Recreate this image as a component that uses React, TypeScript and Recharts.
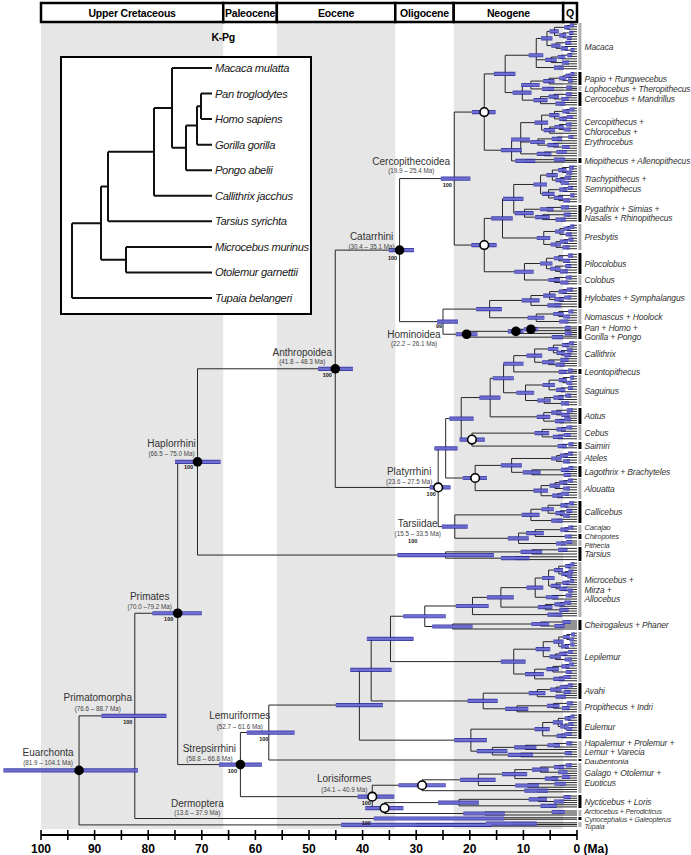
import React from 'react';
import { ComposedChart, Line, Scatter, XAxis, YAxis, ReferenceArea, ReferenceLine } from 'recharts';

// ---------------- data ----------------
const periodNames = ['Upper Cretaceous', 'Paleocene', 'Eocene', 'Oligocene', 'Neogene', 'Q'];
const periodStart = [100, 66, 56, 33.9, 23, 2.58];
const periodEnd = [66, 56, 33.9, 23, 2.58, 0];
const periodShaded = [true, false, true, false, true, false];
const axisTicks = [100, 95, 90, 85, 80, 75, 70, 65, 60, 55, 50, 45, 40, 35, 30, 25, 20, 15, 10, 5, 0];

const cladeLabels = [
  'Macaca', 'Papio + Rungwecebus', 'Lophocebus + Theropithecus', 'Cercocebus + Mandrillus',
  'Cercopithecus +\nChlorocebus +\nErythrocebus', 'Miopithecus + Allenopithecus',
  'Trachypithecus +\nSemnopithecus', 'Pygathrix + Simias  +\nNasalis + Rhinopithecus', 'Presbytis',
  'Pilocolobus', 'Colobus', 'Hylobates + Symphalangus', 'Nomascus + Hoolock', 'Pan + Homo +\nGorilla + Pongo',
  'Callithrix', 'Leontopithecus', 'Saguinus', 'Aotus', 'Cebus', 'Saimiri', 'Ateles', 'Lagothrix + Brachyteles',
  'Alouatta', 'Callicebus', 'Cacajao', 'Chiropotes', 'Pithecia', 'Tarsius', 'Microcebus +\nMirza +\nAllocebus',
  'Cheirogaleus + Phaner', 'Lepilemur', 'Avahi', 'Propithecus + Indri', 'Eulemur',
  'Hapalemur + Prolemur +\nLemur + Varecia', 'Daubentonia', 'Galago + Otolemur +\nEuoticus', 'Nycticebus + Loris',
  'Arctocebus + Perodicticus', 'Cynocephalus + Galeopterus', 'Tupaia',
];
const cladeTop = [23, 72, 86, 92, 107, 158, 165, 205, 224, 253, 275, 287, 309, 326, 341, 369, 375, 408, 425, 442, 451, 466, 478, 501, 525, 534, 540, 547, 562, 620, 632, 683, 701, 714, 741, 759, 763, 795, 810, 817, 822];
const cladeBottom = [70, 85, 91, 106, 157, 163, 203, 222, 250, 274, 285, 308, 324, 339, 367, 374, 406, 424, 440, 449, 464, 477, 499, 523, 533, 539, 546, 561, 617, 630, 682, 699, 713, 739, 758, 761, 793, 808, 816, 820, 827];
const cladeShade = ['g', 'k', 'g', 'k', 'g', 'k', 'g', 'k', 'g', 'k', 'g', 'k', 'g', 'k', 'g', 'k', 'g', 'k', 'g', 'k', 'g', 'k', 'g', 'k', 'g', 'k', 'g', 'k', 'g', 'k', 'g', 'k', 'g', 'k', 'g', 'k', 'g', 'k', 'g', 'k', 'g'];

// clade subtrees: t = tip, (..)age:lo:hi  * = filled node, o = open node, &Name = labelled node
const cladeTrees = [
  '(((((t,t)0.9:0.6:1.3,t)1.8:1.3:2.4,((t,t)1.1:0.7:1.5,(t,t)1.4:1:1.9)2.6:2:3.3)4.2:3.4:5.1,((t,t)1.6:1.1:2.2,(t,(t,t)0.8:0.5:1.2)2.3:1.7:3)3.9:3.1:4.8)5.6:4.6:6.7,(((t,t)1.3:0.9:1.8,t)2.9:2.2:3.6,(t,t)2.1:1.5:2.8)4.8:3.8:5.9,(t,t)3.4:2.5:4.3)7.6:6.3:9',
  '((((t,t)0.8:0.5:1.2,t)1.6:1.1:2.2,(t,t)1.2:0.8:1.7)2.6:2:3.3,t)5.2:4.2:6.3',
  '((t,t)1.4:0.9:2,t)5.4:4.3:6.5',
  '(((t,t)1.5:1:2.1,(t,t)2.2:1.6:2.9)4.3:3.4:5.3,(t,t)3.1:2.2:4)6.8:5.5:8.1',
  '(((((t,t)0.9:0.5:1.4,t)2:1.4:2.7,((t,t)1.3:0.8:1.9,t)2.6:1.9:3.3)4.2:3.3:5.2,(((t,t)1.5:1:2.1,(t,t)1.8:1.2:2.5)3.3:2.5:4.2,t)5.1:4.1:6.2)6.6:5.4:7.9,(((t,t)1.1:0.7:1.6,t)3.7:2.8:4.7,(t,(t,t)2.1:1.4:2.8)4.4:3.4:5.5)7.3:6:8.7,((t,t)2.8:1.9:3.8,t)6.1:4.8:7.5)10.5:8.8:12.3',
  '((t,t)3.2:2.2:4.3,t)9.6:7.8:11.5',
  '((((t,t)1:0.6:1.5,(t,t)1.4:0.9:2)2.7:2:3.5,((t,t)1.7:1.1:2.3,(t,t)2.2:1.5:3)3.1:2.3:4)4.6:3.6:5.7,(((t,t)1.2:0.8:1.7,t)2.5:1.8:3.3,((t,t)0.9:0.5:1.3,(t,t)1.9:1.3:2.6)3.4:2.6:4.3)5.3:4.2:6.5)6.8:5.6:8.1',
  '(((t,t)2.2:1.5:3,t)5.6:4.4:6.9,((t,t)1.8:1.2:2.5,(t,t)3:2.1:4)6.4:5.1:7.8)9.8:8.1:11.6',
  '((((t,t)0.9:0.5:1.3,t)1.8:1.2:2.5,(t,t)1.5:1:2.1)3.2:2.4:4.1,(((t,t)1.1:0.7:1.6,t)2.4:1.7:3.2,(t,t)2:1.4:2.7)3.9:3:4.9)6.2:5:7.5',
  '(((t,t)1.2:0.8:1.7,(t,t)1.9:1.3:2.6)3.4:2.6:4.3,((t,t)1.6:1.1:2.2,(t,t)2.4:1.7:3.2)4:3.1:5)5.7:4.6:6.9',
  '((t,t)1.5:1:2.1,(t,t)2.3:1.6:3.1)4.2:3.2:5.3',
  '((((t,t)1.3:0.8:1.9,t)2.6:1.9:3.4,((t,t)1.7:1.1:2.4,t)3.3:2.5:4.2)5.1:4:6.3,(t,t)4.2:3:5.5)8.6:7:10.3',
  '(((t,t)1.1:0.7:1.6,(t,t)1.9:1.3:2.6)3.4:2.5:4.4,(t,t)2.4:1.6:3.3)7.6:6.1:9.2',
  '((((t,t)1.7:1.2:2.3,t)8.6:7.3:9.9*,(t,t)1.6:1:2.3)11.4:10:12.9*,(t,t)3.6:2.6:4.7)20.6:18.6:22.6*',
  '((((t,t)1:0.6:1.5,t)2.1:1.5:2.8,((t,t)1.3:0.8:1.9,(t,t)1.7:1.1:2.4)2.9:2.2:3.8)4.4:3.5:5.4,((t,t)2.3:1.6:3.1,(t,t)3.1:2.3:4)5.3:4.2:6.5)7.9:6.5:9.4',
  '((t,t)1.2:0.8:1.7,t)2.6:1.9:3.4',
  '((((t,t)0.9:0.6:1.3,(t,t)1.4:0.9:2)2.6:1.9:3.4,((t,t)1.2:0.8:1.7,t)3:2.2:3.9)5.2:4.1:6.4,(((t,t)1.6:1.1:2.2,t)3.4:2.5:4.4,(t,t)2.2:1.5:3)6.1:4.9:7.4)9.6:8:11.3',
  '(((t,t)1.3:0.8:1.9,(t,t)2.1:1.4:2.9)3.8:2.9:4.8,((t,t)1.7:1.1:2.4,t)3.2:2.4:4.1)6.2:5:7.5',
  '(((t,t)1.4:0.9:2,t)2.9:2.1:3.8,((t,t)1.8:1.2:2.5,t)3.5:2.6:4.5)6.5:5.2:7.9',
  '((t,t)1.1:0.7:1.6,t)2.7:1.9:3.6',
  '(((t,t)1.2:0.8:1.7,t)2.4:1.7:3.2,(t,t)1.9:1.3:2.6)3.8:2.9:4.8',
  '(((t,t)1.1:0.7:1.6,t)2.2:1.5:3,(t,t)1.8:1.2:2.5)8.4:6.8:10.1',
  '((((t,t)1.2:0.8:1.7,t)2.5:1.8:3.3,(t,t)1.9:1.3:2.6)4.1:3.2:5.1,((t,t)2.2:1.5:3,t)3.6:2.7:4.6)6.7:5.4:8.1',
  '((((t,t)1:0.6:1.5,t)2.3:1.6:3.1,((t,t)1.4:0.9:2,(t,t)1.9:1.3:2.6)3.1:2.3:4)5.4:4.3:6.6,(t,t)3.7:2.7:4.8)8.6:7:10.3',
  '((t,t)1.1:0.7:1.6,t)2.3:1.6:3.1',
  '(t,t)1.6:1:2.3',
  '((t,t)1.4:0.9:2,t)3:2.1:3.9',
  '(((t,t)2.6:1.8:3.5,t)8.4:6.5:10.5,(t,t)11.5:8.9:14.2)24.5:15.5:33.5&Tarsiidae',
  '(((((((t,t)0.8:0.5:1.2,t)1.6:1.1:2.2,((t,t)1.1:0.7:1.6,(t,t)1.3:0.9:1.8)2.2:1.6:2.9)3.4:2.6:4.3,(((t,t)0.9:0.6:1.3,t)2:1.4:2.7,(t,(t,t)1.2:0.8:1.7)2.5:1.8:3.3)3.9:3:4.9)5.3:4.2:6.5,((t,t)1.5:1:2.1,t)4.6:3.5:5.8)7.8:6.3:9.4,(((t,t)1.7:1.1:2.4,t)3.2:2.3:4.2,(t,t)2.4:1.6:3.3)5.9:4.6:7.3)14.2:11.8:16.8,(t,t)4.1:2.8:5.5)19.5:16.5:22.6',
  '(((t,t)1.9:1.2:2.7,(t,t)3.2:2.3:4.2)6.8:5.2:8.5,t)23.2:19.5:27',
  '(((((t,t)0.7:0.4:1.1,(t,t)1:0.6:1.4)1.9:1.3:2.6,((t,t)0.9:0.5:1.3,t)2.2:1.5:3)3.4:2.5:4.4,(((t,t)1.2:0.8:1.7,t)2.5:1.8:3.3,(t,t)1.6:1:2.3)4:3:5.1)6.3:5:7.7,((((t,t)1:0.6:1.5,t)2.1:1.4:2.9,(t,t)1.5:1:2.1)4.5:3.4:5.7,((t,t)1.8:1.2:2.5,t)3.3:2.3:4.4)7.9:6.2:9.7)11.8:9.6:14.2',
  '((((t,t)1.2:0.8:1.7,t)2.4:1.7:3.2,(t,t)1.8:1.2:2.5)3.9:2.9:5,(t,t)3:2.1:4)7.4:5.9:9',
  '(((t,t)1.3:0.8:1.9,(t,t)2:1.4:2.8)4.4:3.3:5.6,t)11.2:9.1:13.4',
  '((((t,t)0.8:0.5:1.2,t)1.7:1.1:2.3,((t,t)1.1:0.7:1.6,(t,t)1.4:0.9:2)2.3:1.6:3.1)3.5:2.6:4.5,((t,t)1.6:1:2.3,t)2.9:2:3.8)6.4:5.1:7.9',
  '((((t,t)1.4:0.9:2,t)4.3:3.2:5.5,t)9.6:7.6:11.7,((t,t)1.6:1:2.3,t)10.5:8.2:12.9)15.8:13:18.7',
  't',
  '((((((t,t)1.5:1:2.1,t)3.3:2.4:4.3,(t,t)2.6:1.8:3.5)6.8:5.3:8.4,((t,t)2:1.3:2.8,t)4.7:3.5:6)11.6:9.3:14,((t,t)3.1:2.1:4.2,t)9.2:7.1:11.5)18.4:15.2:21.8,(t,t)7.5:5.4:9.8)28.9:24.5:33.3o',
  '(((t,t)1.8:1.2:2.5,(t,t)3.3:2.4:4.3)7.2:5.6:9,(t,t)5.2:3.8:6.8)22:18.3:25.9',
  '((t,t)3.4:2.3:4.7,t)17.2:13.5:21.2',
  '(t,t)25.5:13.6:37.9&Dermoptera',
  '((t,t)12:7.5:17,t)30:16:44',
];

// backbone: name, children, age, HPD low, HPD high, mark
const backbone: [string, string[], number, number, number, string][] = [
  ['Euarchonta', ['Primatomorpha', '#40'], 92.9, 81.9, 107, '*'],
  ['Primatomorpha', ['Primates', '#39'], 82.5, 76.6, 88.7, ''],
  ['Primates', ['Haplorrhini', 'Strepsirrhini'], 74.5, 70.0, 79.2, '*'],
  ['Haplorrhini', ['Anthropoidea', '#27'], 70.8, 66.5, 75.0, '*'],
  ['Anthropoidea', ['Catarrhini', 'Platyrrhini'], 45.1, 41.8, 48.3, '*'],
  ['Catarrhini', ['Cercopithecoidea', 'Hominoidea'], 33.1, 30.4, 35.1, '*'],
  ['Cercopithecoidea', ['Cercopithecinae', 'Colobinae'], 22.9, 19.9, 25.4, ''],
  ['Cercopithecinae', ['Papionini', 'Cercopithecini'], 17.3, 15.2, 19.6, 'o'],
  ['Papionini', ['#0', 'Papionina'], 13.4, 11.5, 15.5, ''],
  ['Papionina', ['PapioLopho', '#3'], 10.2, 8.5, 12.0, ''],
  ['PapioLopho', ['#1', '#2'], 8.6, 7.0, 10.4, ''],
  ['Cercopithecini', ['#4', '#5'], 12.2, 10.3, 14.2, ''],
  ['Colobinae', ['AsianColobines', 'AfricanColobines'], 17.3, 15.0, 19.7, 'o'],
  ['AsianColobines', ['Presbytini', '#8'], 13.9, 12.0, 16.0, ''],
  ['Presbytini', ['#6', '#7'], 11.8, 10.0, 13.8, ''],
  ['AfricanColobines', ['#9', '#10'], 9.8, 8.1, 11.7, ''],
  ['Hominoidea', ['Hylobatidae', '#13'], 25.0, 22.2, 26.1, ''],
  ['Hylobatidae', ['#11', '#12'], 16.3, 14.0, 18.8, ''],
  ['Platyrrhini', ['CebAtel', 'Pitheciidae'], 25.9, 23.6, 27.5, 'o'],
  ['CebAtel', ['Cebidae', 'Atelidae'], 24.5, 22.3, 26.6, ''],
  ['Cebidae', ['CallAotus', 'Cebinae'], 21.6, 19.3, 23.8, ''],
  ['CallAotus', ['Callitrichinae', '#17'], 16.2, 14.3, 18.2, ''],
  ['Callitrichinae', ['CallLeonto', '#16'], 13.7, 11.8, 15.7, ''],
  ['CallLeonto', ['#14', '#15'], 11.8, 10.0, 13.7, ''],
  ['Cebinae', ['#18', '#19'], 19.6, 17.2, 21.9, 'o'],
  ['Atelidae', ['Atelinae', '#22'], 19.0, 16.8, 21.3, 'o'],
  ['Atelinae', ['#20', '#21'], 12.2, 10.3, 14.2, ''],
  ['Pitheciidae', ['#23', 'Pitheciinae'], 22.8, 20.4, 25.2, ''],
  ['Pitheciinae', ['CacChiro', '#26'], 10.9, 9.0, 12.9, ''],
  ['CacChiro', ['#24', '#25'], 7.8, 6.2, 9.5, ''],
  ['Strepsirrhini', ['Lemuriformes', 'Lorisiformes'], 62.8, 58.8, 66.8, '*'],
  ['Lemuriformes', ['Lemuroidea', '#35'], 57.5, 52.7, 61.6, ''],
  ['Lemuroidea', ['CheirLepiIndri', 'Lemuridae'], 40.6, 36.2, 45.0, ''],
  ['CheirLepiIndri', ['CheirLepi', 'Indriidae'], 38.4, 34.6, 42.3, ''],
  ['CheirLepi', ['Cheirogaleidae', '#30'], 34.8, 30.5, 39.2, ''],
  ['Cheirogaleidae', ['#28', '#29'], 28.4, 24.5, 32.4, ''],
  ['Indriidae', ['#31', '#32'], 17.5, 14.8, 20.4, ''],
  ['Lemuridae', ['#33', '#34'], 19.8, 16.8, 22.9, ''],
  ['Lorisiformes', ['#36', 'Lorisidae'], 38.2, 34.1, 40.9, 'o'],
  ['Lorisidae', ['#37', '#38'], 35.9, 32.4, 39.5, 'o'],
];
const ROOT = 'Euarchonta';

const labelNodes = ['Euarchonta', 'Primatomorpha', 'Primates', 'Haplorrhini', 'Anthropoidea', 'Catarrhini', 'Cercopithecoidea', 'Hominoidea', 'Platyrrhini', 'Tarsiidae', 'Strepsirrhini', 'Lemuriformes', 'Lorisiformes', 'Dermoptera'];
const labelRanges = ['(81.9 – 104.1 Ma)', '(76.6 – 88.7 Ma)', '(70.0 –79.2 Ma)', '(66.5 – 75.0 Ma)', '(41.8 – 48.3 Ma)', '(30.4 – 35.1 Ma)', '(19.9 – 25.4 Ma)', '(22.2 – 26.1 Ma)', '(23.6 – 27.5 Ma)', '(15.5 – 33.5 Ma)', '(58.8 – 66.8 Ma)', '(52.7 – 61.6 Ma)', '(34.1 – 40.9 Ma)', '(13.6 – 37.9 Ma)'];
const labelSupport = ['', '100', '100', '100', '100', '100', '100', '99', '100', '100', '100', '100', '100', '100'];

// inset cladogram (depth from root; tips at INSET_TIP)
const insetTaxa = ['Macaca mulatta', 'Pan troglodytes', 'Homo sapiens', 'Gorilla gorilla', 'Pongo abelii', 'Callithrix jacchus', 'Tarsius syrichta', 'Microcebus murinus', 'Otolemur garnettii', 'Tupaia belangeri'];
const insetTree = '(((((t,(((t,t)129,t)125,t)114)100,t)82,t)36,(t,t)54)29,t)0';
const INSET_TIP = 140;

// ---------------- styling constants ----------------
const FONT = '"Liberation Sans", Arimo, Arial, Helvetica, sans-serif';
const W = 691;
const H = 855;
const X_DOMAIN: [number, number] = [-21.27, 107.65];
const Y_DOMAIN: [number, number] = [0, 835];
const LABEL_BAR_X = -0.55;
const LABEL_TEXT_X = -1.4;
const LABEL_OFFSETS: Record<string, number[]> = {
  Euarchonta: [-31, -18, -8, 0, 0],
  Primatomorpha: [-37, -18, -7, -7, 6],
  Primates: [-28, -17, -7, -9, 6],
  Haplorrhini: [-26, -18, -8, -9, 5],
  Anthropoidea: [-33, -16, -7, -8, 6],
  Catarrhini: [-28, -14, -4, -7, 8],
  Cercopithecoidea: [-43, -17, -8, -7, 6],
  Hominoidea: [-29, 13, 22, -4, 4],
  Platyrrhini: [-29, -16, -6, -7, 7],
  Tarsiidae: [-28, -32, -22, -33, -14],
  Strepsirrhini: [-31, -16, -6, -8, 6],
  Lemuriformes: [-29, -17, -6, -5, 6],
  Lorisiformes: [-28, -18, -7, -6, 6],
  Dermoptera: [-243, -15, -6, -74, 4],
};
// small vertical nudges / sizes for crowded right-hand labels (pixels)
const CLADE_LABEL_STYLE: Record<string, { dy?: number; size?: number; lh?: number }> = {
  'Hapalemur + Prolemur +\nLemur + Varecia': { dy: -2, lh: 9 },
  Daubentonia: { dy: 1.5, size: 8 },
  'Arctocebus + Perodicticus': { dy: -1.5, size: 7 },
  'Cynocephalus + Galeopterus': { dy: 0.5, size: 7 },
  Tupaia: { dy: 2, size: 7 },
  Cacajao: { dy: -1.5, size: 7.4 },
  Chiropotes: { dy: -0.5, size: 7.4 },
  Pithecia: { dy: 2, size: 7.4 },
};

// ---------------- tree helpers ----------------
type TNode = { kids: TNode[]; age: number; lo?: number; hi?: number; mark?: string; name?: string; y: number; tip: boolean };
type Pt = { x: number; y: number | null };

function parseTree(src: string): TNode {
  const s = src.replace(/\s+/g, '');
  let i = 0;
  const num = (): number => {
    const m = /^-?\d+(\.\d+)?/.exec(s.slice(i));
    if (!m) throw new Error('number expected at ' + i + ': ' + s.slice(Math.max(0, i - 15), i + 15));
    i += m[0].length;
    return parseFloat(m[0]);
  };
  const node = (): TNode => {
    if (s[i] === 't') { i++; return { kids: [], age: 0, y: 0, tip: true }; }
    if (s[i] !== '(') throw new Error('unexpected ' + s[i] + ' at ' + i + ' in ' + s.slice(0, 30));
    i++;
    const kids: TNode[] = [node()];
    while (s[i] === ',') { i++; kids.push(node()); }
    if (s[i] !== ')') throw new Error(') expected at ' + i + ': ' + s.slice(Math.max(0, i - 15), i + 15));
    i++;
    const n: TNode = { kids, age: num(), y: 0, tip: false };
    if (s[i] === ':') { i++; n.lo = num(); i++; n.hi = num(); }
    while (i < s.length && (s[i] === '*' || s[i] === 'o' || s[i] === '&')) {
      if (s[i] === '&') {
        i++;
        const m = /^[A-Za-z]+/.exec(s.slice(i));
        n.name = m ? m[0] : '';
        i += n.name.length;
      } else { n.mark = s[i]; i++; }
    }
    return n;
  };
  const root = node();
  if (i !== s.length) throw new Error('trailing text at ' + i + ' in ' + s.slice(0, 30));
  return root;
}

function tipsOf(n: TNode, out: TNode[] = []): TNode[] {
  if (n.tip) out.push(n); else n.kids.forEach((k) => tipsOf(k, out));
  return out;
}

function setY(n: TNode) {
  if (n.tip) return;
  n.kids.forEach(setY);
  n.y = n.kids.reduce((a, k) => a + k.y, 0) / n.kids.length;
}

function collect(root: TNode, xOf: (n: TNode) => number) {
  const edges: Pt[] = [];
  const bars: Pt[] = [];
  const dots: any[] = [];
  const named: Record<string, TNode> = {};
  const walk = (n: TNode) => {
    if (n.tip) return;
    const x = xOf(n);
    const ys = n.kids.map((k) => k.y);
    edges.push({ x, y: Math.min(...ys) }, { x, y: Math.max(...ys) }, { x, y: null });
    n.kids.forEach((k) => {
      edges.push({ x, y: k.y }, { x: xOf(k), y: k.y }, { x: xOf(k), y: null });
      walk(k);
    });
    if (n.lo !== undefined && n.hi !== undefined) bars.push({ x: n.hi, y: n.y }, { x: n.lo, y: n.y }, { x: n.lo, y: null });
    if (n.mark) dots.push({ x, y: n.y, mark: n.mark });
    if (n.name) named[n.name] = n;
  };
  walk(root);
  return { edges, bars, dots, named };
}

function buildMain() {
  const cladeRoots = cladeTrees.map((s, k) => {
    const r = parseTree(s);
    const tips = tipsOf(r);
    const step = (cladeBottom[k] - cladeTop[k]) / tips.length;
    tips.forEach((t, j) => { t.y = cladeTop[k] + (j + 0.5) * step; });
    return r;
  });
  const byName: Record<string, [string, string[], number, number, number, string]> = {};
  backbone.forEach((b) => { byName[b[0]] = b; });
  const resolve = (key: string): TNode => {
    if (key[0] === '#') return cladeRoots[parseInt(key.slice(1), 10)];
    const b = byName[key];
    if (!b) throw new Error('unknown node ' + key);
    return { kids: b[1].map(resolve), age: b[2], lo: b[3], hi: b[4], mark: b[5] || undefined, name: b[0], y: 0, tip: false };
  };
  const root = resolve(ROOT);
  setY(root);
  const c = collect(root, (n) => (n.tip ? 0 : n.age));
  const greyBars: Pt[] = [];
  const blackBars: Pt[] = [];
  cladeTop.forEach((t, k) => {
    const arr = cladeShade[k] === 'k' ? blackBars : greyBars;
    arr.push({ x: LABEL_BAR_X, y: t }, { x: LABEL_BAR_X, y: cladeBottom[k] }, { x: LABEL_BAR_X, y: null });
  });
  const cladeText = cladeLabels.map((text, k) => ({ x: LABEL_TEXT_X, y: (cladeTop[k] + cladeBottom[k]) / 2, text }));
  const nodeLabels = labelNodes.map((name, i) => {
    const n = c.named[name];
    return { x: n.age, y: n.y, name, range: labelRanges[i], support: labelSupport[i], off: LABEL_OFFSETS[name] };
  });
  const annotations: any[] = periodNames.map((p, i) => ({ x: (periodStart[i] + periodEnd[i]) / 2, y: 12.5, text: p }));
  annotations.push({ x: 66, y: 37, text: 'K-Pg' });
  return { ...c, greyBars, blackBars, cladeText, nodeLabels, annotations };
}

function buildInset() {
  const r = parseTree(insetTree);
  const tips = tipsOf(r);
  tips.forEach((t, j) => { t.y = j; });
  setY(r);
  const c = collect(r, (n) => (n.tip ? INSET_TIP : n.age));
  const labels = insetTaxa.map((name, j) => ({ x: INSET_TIP, y: j, name }));
  return { edges: c.edges, labels };
}

// ---------------- shapes ----------------
const AxisTick = (p: any) => {
  const { x, y, payload } = p;
  const v = payload.value;
  return (
    <g>
      <line x1={x} x2={x} y1={y - 5} y2={y + 5} stroke="#000" strokeWidth={1.6} />
      {v % 10 === 0 ? (
        <text x={v === 0 ? x - 3.5 : x} y={y + 14} textAnchor={v === 0 ? 'start' : 'middle'} dominantBaseline="central"
          fontSize={12} fontWeight="bold" fontFamily={FONT} fill="#000">{v === 0 ? '0 (Ma)' : String(v)}</text>
      ) : null}
    </g>
  );
};

const pl = (p: any) => (p && p.payload ? p.payload : p);

const DotShape = (p: any) => {
  const d = pl(p);
  if (d.mark === '*') return <circle cx={p.cx} cy={p.cy} r={4.8} fill="#000" />;
  return <circle cx={p.cx} cy={p.cy} r={4.3} fill="#fff" stroke="#000" strokeWidth={1.6} />;
};

const NodeLabelShape = (p: any) => {
  const d = pl(p);
  const o = d.off;
  return (
    <g>
      <text x={p.cx + o[0]} y={p.cy + o[1]} textAnchor="middle" dominantBaseline="central" fontSize={10} fill="#333" fontFamily={FONT}>{d.name}</text>
      <text x={p.cx + o[0]} y={p.cy + o[2]} textAnchor="middle" dominantBaseline="central" fontSize={6.3} fill="#444" fontFamily={FONT}>{d.range}</text>
      {d.support ? (
        <text x={p.cx + o[3]} y={p.cy + o[4]} textAnchor="middle" dominantBaseline="central" fontSize={5.5} fontWeight="bold" fill="#111" fontFamily={FONT}>{d.support}</text>
      ) : null}
    </g>
  );
};

const CladeLabelShape = (p: any) => {
  const d = pl(p);
  const st = CLADE_LABEL_STYLE[d.text] || {};
  const lines: string[] = d.text.split('\n');
  const lh = st.lh ?? 9.8;
  const size = st.size ?? 8.5;
  const y0 = p.cy + (st.dy ?? 0) - ((lines.length - 1) * lh) / 2;
  return (
    <g>
      {lines.map((l, i) => (
        <text key={i} x={p.cx} y={y0 + i * lh} dominantBaseline="central" fontSize={size} fontStyle="italic" fill="#333"
          fontFamily={FONT} letterSpacing={-0.15}>{l}</text>
      ))}
    </g>
  );
};

const AnnotShape = (p: any) => {
  const d = pl(p);
  return (
    <text x={p.cx} y={p.cy} textAnchor="middle" dominantBaseline="central" fontSize={10.5} fontWeight="bold" fill="#000"
      fontFamily={FONT} letterSpacing={-0.2}>{d.text}</text>
  );
};

const InsetLabelShape = (p: any) => {
  const d = pl(p);
  return (
    <text x={p.cx + 3} y={p.cy} dominantBaseline="central" fontSize={11.2} fontStyle="italic" fill="#1a1a1a" fontFamily={FONT}
      letterSpacing={-0.35}>{d.name}</text>
  );
};

const lineCommon = { dataKey: 'y', dot: false, activeDot: false, isAnimationActive: false, connectNulls: false, legendType: 'none' as const };

export default function App() {
  const m = React.useMemo(buildMain, []);
  const ins = React.useMemo(buildInset, []);
  return (
    <div style={{ position: 'absolute', left: 0, top: 0, width: W, height: H, background: '#fff', overflow: 'hidden' }}>
      <ComposedChart width={W} height={H} margin={{ top: 0, right: 0, bottom: 0, left: 0 }}>
        <XAxis dataKey="x" type="number" domain={X_DOMAIN} reversed allowDataOverflow ticks={axisTicks} interval={0}
          axisLine={false} tickLine={false} tickSize={0} tickMargin={0} height={20} tick={(p: any) => <AxisTick {...p} />} />
        <YAxis dataKey="y" type="number" domain={Y_DOMAIN} reversed allowDataOverflow hide />
        {periodNames.map((p, i) =>
          periodShaded[i] ? (
            <ReferenceArea key={'band' + i} x1={periodStart[i]} x2={periodEnd[i]} y1={23} y2={829} fill="#e6e6e6" fillOpacity={1} stroke="none" ifOverflow="visible" />
          ) : null,
        )}
        {periodNames.map((p, i) => (
          <ReferenceArea key={'hdr' + i} x1={periodStart[i]} x2={periodEnd[i]} y1={3} y2={22} fill="#fff" fillOpacity={1} stroke="#000" strokeWidth={2.5} ifOverflow="visible" />
        ))}
        <ReferenceLine segment={[{ x: 100, y: 835 }, { x: 0, y: 835 }]} stroke="#000" strokeWidth={2} ifOverflow="visible" />
        <Line {...lineCommon} data={m.edges} stroke="#262626" strokeWidth={1} />
        <Line {...lineCommon} data={m.bars} stroke="#24249a" strokeWidth={4.2} strokeOpacity={0.85} />
        <Line {...lineCommon} data={m.bars} stroke="#7373d8" strokeWidth={2.3} strokeOpacity={0.9} />
        <Line {...lineCommon} data={m.greyBars} stroke="#b0b0b0" strokeWidth={3} />
        <Line {...lineCommon} data={m.blackBars} stroke="#000" strokeWidth={3} />
        <Scatter data={m.nodeLabels} dataKey="y" isAnimationActive={false} shape={NodeLabelShape} />
        <Scatter data={m.dots} dataKey="y" isAnimationActive={false} shape={DotShape} />
        <Scatter data={m.cladeText} dataKey="y" isAnimationActive={false} shape={CladeLabelShape} />
        <Scatter data={m.annotations} dataKey="y" isAnimationActive={false} shape={AnnotShape} />
      </ComposedChart>
      <div style={{ position: 'absolute', left: 60, top: 56, width: 252, height: 259, border: '2px solid #000', boxSizing: 'border-box', background: '#fff' }}>
        <ComposedChart width={248} height={255} margin={{ top: 10, right: 98, bottom: 15, left: 10 }}>
          <XAxis dataKey="x" type="number" domain={[0, INSET_TIP]} hide />
          <YAxis dataKey="y" type="number" domain={[0, insetTaxa.length - 1]} reversed hide />
          <Line {...lineCommon} data={ins.edges} stroke="#111" strokeWidth={2} />
          <Scatter data={ins.labels} dataKey="y" isAnimationActive={false} shape={InsetLabelShape} />
        </ComposedChart>
      </div>
    </div>
  );
}
